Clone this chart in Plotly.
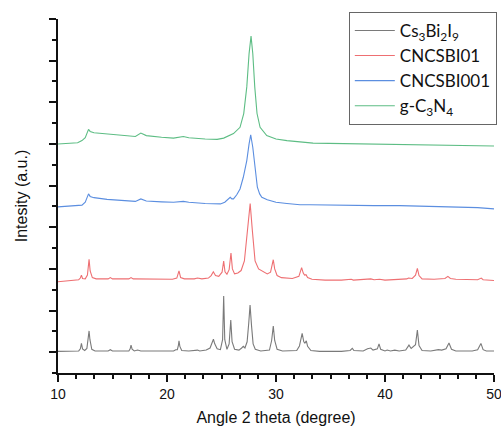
import plotly.graph_objects as go

# 2-theta positions (degree) and stacked intensities (a.u.) for each sample
cs_2theta = [10.0, 11.0, 11.9, 12.05, 12.15, 12.25, 12.45, 12.65, 12.78, 12.85, 12.93, 13.1, 13.4,
             14.6, 14.8, 15.0, 16.5, 16.62, 16.7, 16.8, 17.0, 17.3, 17.6, 19.5, 20.6, 20.8, 20.95,
             21.05, 21.1, 21.18, 21.35, 22.0, 22.8, 23.0, 23.6, 23.95, 24.15, 24.26, 24.38, 24.6,
             24.9, 25.1, 25.2, 25.3, 25.5, 25.7, 25.85, 25.97, 26.2, 26.6, 26.85, 27.0, 27.15,
             27.35, 27.5, 27.62, 27.75, 27.9, 28.1, 28.6, 29.4, 29.6, 29.75, 29.88, 30.1, 30.6,
             31.9, 32.15, 32.4, 32.55, 32.65, 32.78, 32.9, 33.2, 34.0, 36.0, 36.8, 37.0, 37.15,
             38.0, 38.4, 38.7, 38.9, 39.3, 39.45, 39.6, 40.0, 40.2, 40.5, 40.9, 41.3, 41.9, 42.2,
             42.4, 42.8, 42.97, 43.12, 43.4, 44.2, 44.9, 45.2, 45.6, 45.87, 46.1, 46.5, 48.0,
             48.5, 48.8, 49.0, 49.3, 50.0]
cs_int = [0.02, 0.02, 0.03, 0.08, 0.21, 0.08, 0.04, 0.09, 0.30, 0.51, 0.30, 0.07, 0.03,
          0.03, 0.06, 0.03, 0.03, 0.08, 0.17, 0.07, 0.03, 0.05, 0.03, 0.02, 0.03, 0.06, 0.06,
          0.17, 0.27, 0.14, 0.04, 0.03, 0.05, 0.03, 0.05, 0.10, 0.22, 0.31, 0.20, 0.08,
          0.06, 0.30, 1.35, 0.30, 0.07, 0.20, 0.77, 0.25, 0.07, 0.05, 0.10, 0.14, 0.10,
          0.25, 0.70, 1.13, 0.65, 0.20, 0.07, 0.03, 0.05, 0.28, 0.63, 0.28, 0.07, 0.03,
          0.04, 0.15, 0.45, 0.25, 0.22, 0.27, 0.14, 0.04, 0.02, 0.02, 0.04, 0.09, 0.04,
          0.03, 0.08, 0.10, 0.05, 0.08, 0.20, 0.07, 0.03, 0.05, 0.03, 0.05, 0.03, 0.05, 0.17,
          0.09, 0.18, 0.53, 0.16, 0.04, 0.03, 0.06, 0.05, 0.08, 0.22, 0.07, 0.03, 0.03,
          0.06, 0.21, 0.06, 0.03, 0.03]

cn01_2theta = [10.0, 11.0, 11.9, 12.05, 12.15, 12.25, 12.5, 12.7, 12.85, 12.95, 13.15, 13.5,
               14.6, 14.8, 15.0, 16.5, 16.7, 16.9, 18.0, 19.0, 20.5, 20.9, 21.1, 21.25, 21.6,
               22.5, 22.8, 23.2, 23.8, 24.05, 24.25, 24.45, 24.75, 25.05, 25.2, 25.32, 25.5,
               25.7, 25.87, 26.0, 26.2, 26.5, 26.8, 27.1, 27.41, 27.63, 27.83, 28.08, 28.4,
               28.8, 29.2, 29.5, 29.62, 29.75, 29.88, 30.1, 30.5, 31.5, 32.1, 32.35, 32.5,
               32.62, 32.75, 32.9, 33.3, 34.5, 36.0, 36.9, 37.1, 38.4, 38.7, 39.0, 39.5, 40.0,
               41.5, 42.0, 42.15, 42.5, 42.8, 42.97, 43.12, 43.4, 44.5, 45.5, 45.77, 46.0,
               46.5, 48.5, 48.83, 49.0, 50.0]
cn01_int = [1.69, 1.71, 1.74, 1.78, 1.85, 1.77, 1.76, 1.85, 2.23, 1.95, 1.79, 1.76,
            1.76, 1.79, 1.76, 1.76, 1.79, 1.76, 1.76, 1.75, 1.75, 1.78, 1.95, 1.79, 1.76,
            1.76, 1.78, 1.76, 1.78, 1.84, 1.93, 1.84, 1.82, 1.92, 2.19, 1.93, 1.87,
            1.98, 2.38, 2.00, 1.88, 1.90, 1.96, 2.19, 2.92, 3.57, 2.92, 2.19, 2.00,
            1.93, 1.88, 1.92, 2.05, 2.22, 2.00, 1.84, 1.79, 1.77, 1.82, 2.03, 1.90,
            1.85, 1.86, 1.79, 1.75, 1.73, 1.73, 1.75, 1.73, 1.75, 1.76, 1.74, 1.75, 1.73,
            1.74, 1.76, 1.78, 1.77, 1.85, 2.01, 1.84, 1.76, 1.75, 1.77, 1.82, 1.77,
            1.75, 1.74, 1.78, 1.74, 1.72]

cn001_2theta = [10.0, 11.0, 11.8, 12.2, 12.5, 12.8, 12.95, 13.3, 14.5, 16.0, 17.1, 17.6, 18.1,
                19.5, 20.6, 21.5, 22.0, 23.5, 24.9, 25.3, 25.6, 25.8, 25.95, 26.1, 26.4, 26.7,
                27.0, 27.32, 27.53, 27.68, 27.87, 28.08, 28.29, 28.5, 28.7, 29.2, 29.7, 30.0,
                31.0, 32.2, 33.1, 35.0, 37.0, 39.0, 41.35, 43.0, 45.0, 47.0, 48.5, 50.0]
cn001_int = [3.49, 3.50, 3.51, 3.53, 3.60, 3.80, 3.74, 3.71, 3.67, 3.64, 3.62, 3.68, 3.63,
             3.61, 3.60, 3.62, 3.60, 3.57, 3.56, 3.60, 3.66, 3.72, 3.68, 3.68, 3.78, 3.92,
             4.20, 4.60, 5.00, 5.22, 4.92, 4.36, 3.96, 3.80, 3.72, 3.66, 3.62, 3.60,
             3.57, 3.54, 3.54, 3.53, 3.53, 3.52, 3.52, 3.51, 3.50, 3.48, 3.47, 3.44]

gcn_2theta = [10.0, 11.0, 11.8, 12.2, 12.5, 12.8, 12.95, 13.3, 15.0, 17.1, 17.6, 18.1, 19.5,
              20.6, 21.5, 22.0, 23.5, 24.6, 25.2, 25.8, 26.1, 26.7, 27.04, 27.32, 27.53, 27.71,
              27.87, 28.05, 28.26, 28.54, 29.15, 30.0, 31.0, 33.4, 36.0, 39.0, 41.35, 44.0,
              47.0, 50.0]
gcn_int = [5.00, 5.01, 5.03, 5.08, 5.15, 5.35, 5.30, 5.27, 5.23, 5.18, 5.26, 5.20, 5.16,
           5.14, 5.18, 5.15, 5.12, 5.11, 5.14, 5.22, 5.25, 5.40, 5.73, 6.37, 7.17, 7.59,
           7.17, 6.37, 5.73, 5.40, 5.20, 5.12, 5.08, 5.02, 5.01, 5.00, 4.99, 4.98,
           4.97, 4.95]

series = [
    ("Cs<sub>3</sub>Bi<sub>2</sub>I<sub>9</sub>", cs_2theta, cs_int, "#7a7a7a"),
    ("CNCSBI01", cn01_2theta, cn01_int, "#ee6f72"),
    ("CNCSBI001", cn001_2theta, cn001_int, "#5b8ee0"),
    ("g-C<sub>3</sub>N<sub>4</sub>", gcn_2theta, gcn_int, "#5dbd84"),
]

fig = go.Figure()
for name, x, y, color in series:
    fig.add_trace(go.Scatter(x=x, y=y, mode="lines", name=name,
                             line=dict(color=color, width=1.1)))

axis_font = dict(family="Liberation Sans, Arial, sans-serif", size=14, color="#111")
title_font = dict(family="Liberation Sans, Arial, sans-serif", size=16, color="#111")

fig.update_layout(
    width=501, height=426,
    margin=dict(l=57.5, r=6.5, t=19, b=53.3, autoexpand=False),
    plot_bgcolor="white", paper_bgcolor="white",
    showlegend=True,
    legend=dict(
        x=0.667, y=1.02, xanchor="left", yanchor="top",
        bgcolor="white", bordercolor="#666", borderwidth=1,
        font=dict(family="Lato, Carlito, sans-serif", size=17, color="#111"),
        itemwidth=40, tracegroupgap=0,
    ),
    xaxis=dict(
        range=[10, 50], dtick=10, tick0=10,
        showline=True, linecolor="#111", linewidth=1.5,
        ticks="outside", ticklen=7, tickwidth=1.5, tickcolor="#111",
        minor=dict(dtick=10 / 6, ticks="outside", ticklen=4, tickwidth=1.5, tickcolor="#111"),
        showgrid=False, zeroline=False, tickfont=axis_font, ticklabeloverflow="allow",
        title=dict(text="Angle 2 theta (degree)", font=title_font, standoff=17),
    ),
    yaxis=dict(
        range=[-0.5, 8], dtick=1, tick0=0,
        showline=True, linecolor="#111", linewidth=1.5,
        ticks="outside", ticklen=7, tickwidth=1.5, tickcolor="#111",
        minor=dict(dtick=0.5, ticks="outside", ticklen=4, tickwidth=1.5, tickcolor="#111"),
        showgrid=False, zeroline=False, showticklabels=False,
        title=dict(text="Intesity (a.u.)", font=title_font, standoff=18),
    ),
)

fig.write_html("out.html")
